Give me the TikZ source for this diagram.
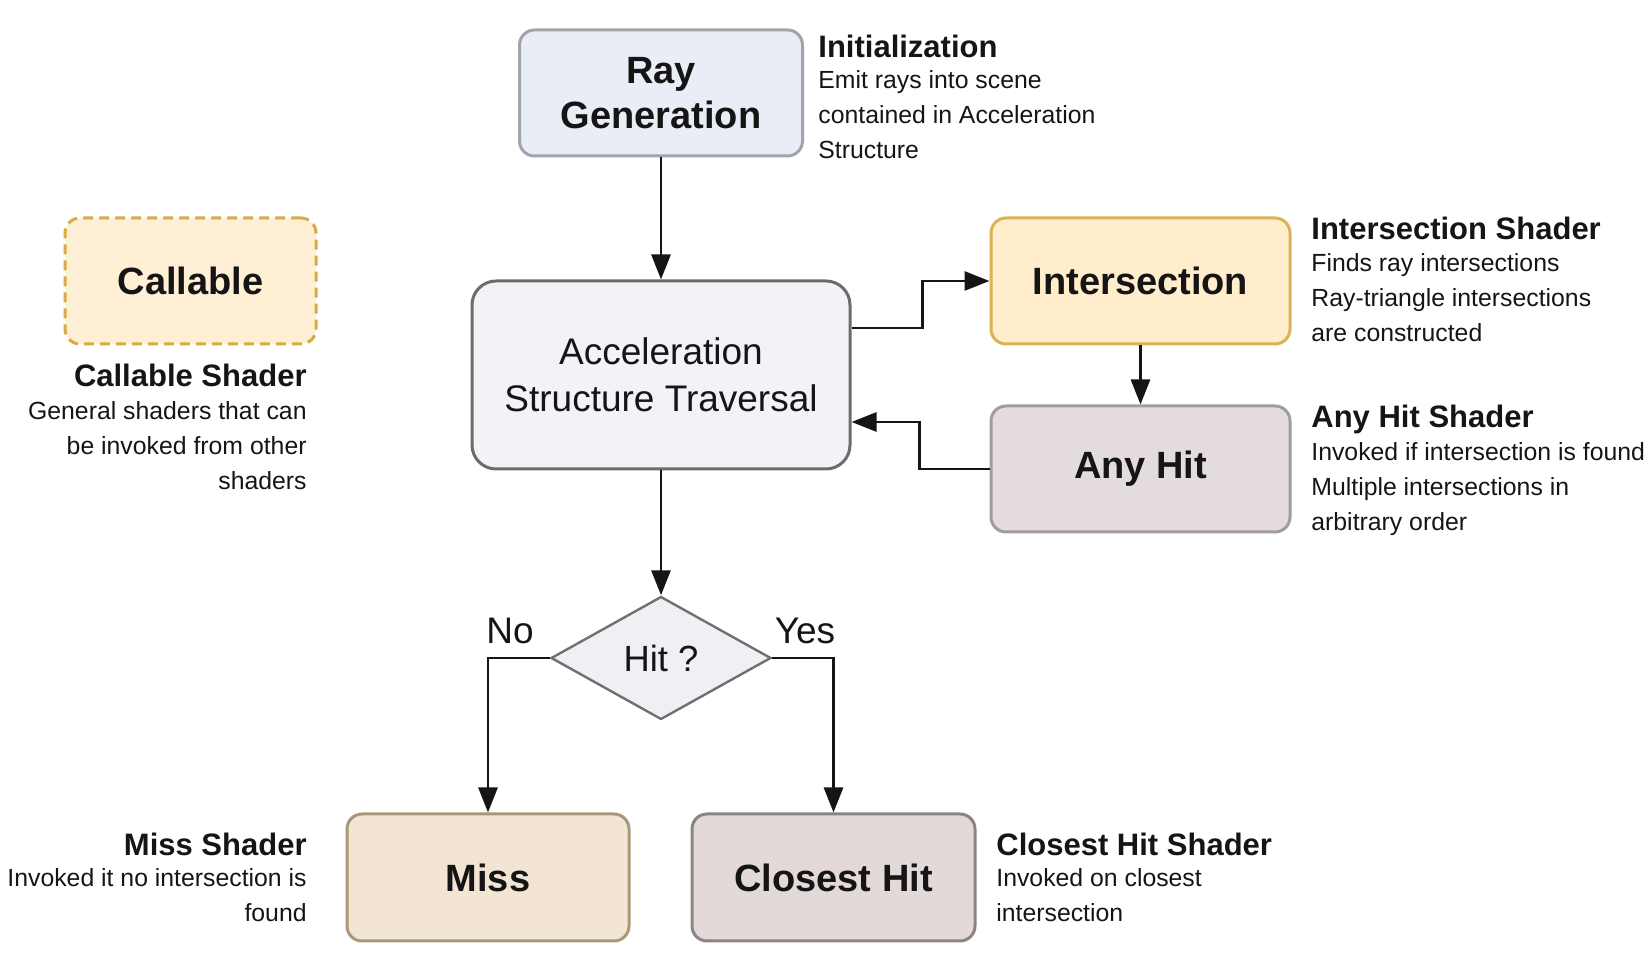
\documentclass[tikz,border=0pt]{standalone}
\usepackage{fontspec}
\setmainfont{Liberation Sans}
\usetikzlibrary{shapes.geometric,arrows.meta}
\definecolor{rgfill}{HTML}{E9EDF6}
\definecolor{rgdraw}{HTML}{A3A3AB}
\definecolor{asfill}{HTML}{F1F3F7}
\definecolor{asdraw}{HTML}{706A6A}
\definecolor{callfill}{HTML}{FFEFD5}
\definecolor{calldraw}{HTML}{D6AD45}
\definecolor{isfill}{HTML}{FFEDCC}
\definecolor{isdraw}{HTML}{D9B355}
\definecolor{ahfill}{HTML}{E4DBDD}
\definecolor{ahdraw}{HTML}{A09CA2}
\definecolor{missfill}{HTML}{F3E5D3}
\definecolor{missdraw}{HTML}{A89878}
\definecolor{chfill}{HTML}{E3D9D9}
\definecolor{chdraw}{HTML}{8C8484}
\definecolor{hitfill}{HTML}{EEF0F4}
\definecolor{hitdraw}{HTML}{707070}
\definecolor{ink}{HTML}{151515}
\begin{document}
\begin{tikzpicture}[x=0.5pt,y=-0.5pt,>={Triangle[length=12.5pt,width=9.5pt]},every node/.style={text=ink},
  stagebox/.style={draw,rounded corners=7.5pt,line width=1.5pt,minimum width=141.5pt,minimum height=63pt,inner sep=0pt,align=center,font=\fontsize{19}{22.5}\selectfont\bfseries},
  headtext/.style={anchor=base west,inner sep=0pt,font=\fontsize{15.5}{18}\selectfont\bfseries},
  bodytext/.style={anchor=north west,inner sep=0pt,align=left,font=\fontsize{12.4}{17.5}\selectfont},
  flow/.style={->,line width=1.4pt,draw=ink}]
\useasboundingbox (0,0) rectangle (1650,961);
% shader stages
\node[stagebox,fill=rgfill,draw=rgdraw] (raygen) at (661,93) {Ray\\Generation};
\node[stagebox,fill=callfill,draw=calldraw,dash pattern=on 5pt off 3pt,minimum width=125.5pt] (callable) at (190.5,281) {Callable};
\node[stagebox,fill=asfill,draw=asdraw,rounded corners=12pt,minimum width=189pt,minimum height=94pt,font=\fontsize{18.5}{23.5}\selectfont] (accel) at (661,375) {Acceleration\\Structure Traversal};
\node[stagebox,fill=isfill,draw=isdraw,minimum width=149.5pt] (isect) at (1140.5,281) {Intersection};
\node[stagebox,fill=ahfill,draw=ahdraw,minimum width=149.5pt] (anyhit) at (1140.5,469) {Any Hit};
\node[diamond,draw=hitdraw,fill=hitfill,aspect=1.79,minimum width=110pt,minimum height=61.5pt,inner sep=0pt,line width=1.2pt,font=\fontsize{18.2}{22}\selectfont] (hit) at (661,658) {Hit ?};
\node[stagebox,fill=missfill,draw=missdraw,minimum width=141pt,minimum height=63.5pt] (miss) at (488,877.5) {Miss};
\node[stagebox,fill=chfill,draw=chdraw,minimum height=63.5pt] (closest) at (833.5,877.5) {Closest Hit};
\node[font=\fontsize{18.5}{22}\selectfont] (nolabel) at (510,631) {No};
\node[font=\fontsize{18.5}{22}\selectfont] (yeslabel) at (805,631) {Yes};
% descriptions
\node[headtext] (inithead) at (818,58) {Initialization};
\node[bodytext] (initbody) at (818,70) {Emit rays into scene\\contained in Acceleration\\Structure};
\node[headtext,anchor=base east] (callhead) at (307,387) {Callable Shader};
\node[bodytext,anchor=north east,align=right] (callbody) at (307,401) {General shaders that can\\be invoked from other\\shaders};
\node[headtext] (isecthead) at (1311,240) {Intersection Shader};
\node[bodytext] (isectbody) at (1311,253) {Finds ray intersections\\Ray-triangle intersections\\are constructed};
\node[headtext] (anyhithead) at (1311,428) {Any Hit Shader};
\node[bodytext] (anyhitbody) at (1311,442) {Invoked if intersection is found\\Multiple intersections in\\arbitrary order};
\node[headtext,anchor=base east] (misshead) at (307,856) {Miss Shader};
\node[bodytext,anchor=north east,align=right] (missbody) at (307,868) {Invoked it no intersection is\\found};
\node[headtext] (closesthead) at (996,856) {Closest Hit Shader};
\node[bodytext] (closestbody) at (996,868) {Invoked on closest\\intersection};
% connectors
\draw[flow] (raygen) -- (accel);
\draw[flow] (accel) -- (hit);
\draw[flow] ([yshift=23.5pt]accel.east) -- ++(35.5pt,0) |- (isect.west);
\draw[flow] (isect) -- (anyhit);
\draw[flow] (anyhit.west) -- ++(-35pt,0) |- ([yshift=-23.5pt]accel.east);
\draw[flow] (hit.west) -| (miss.north);
\draw[flow] (hit.east) -| (closest.north);
\end{tikzpicture}
\end{document}
